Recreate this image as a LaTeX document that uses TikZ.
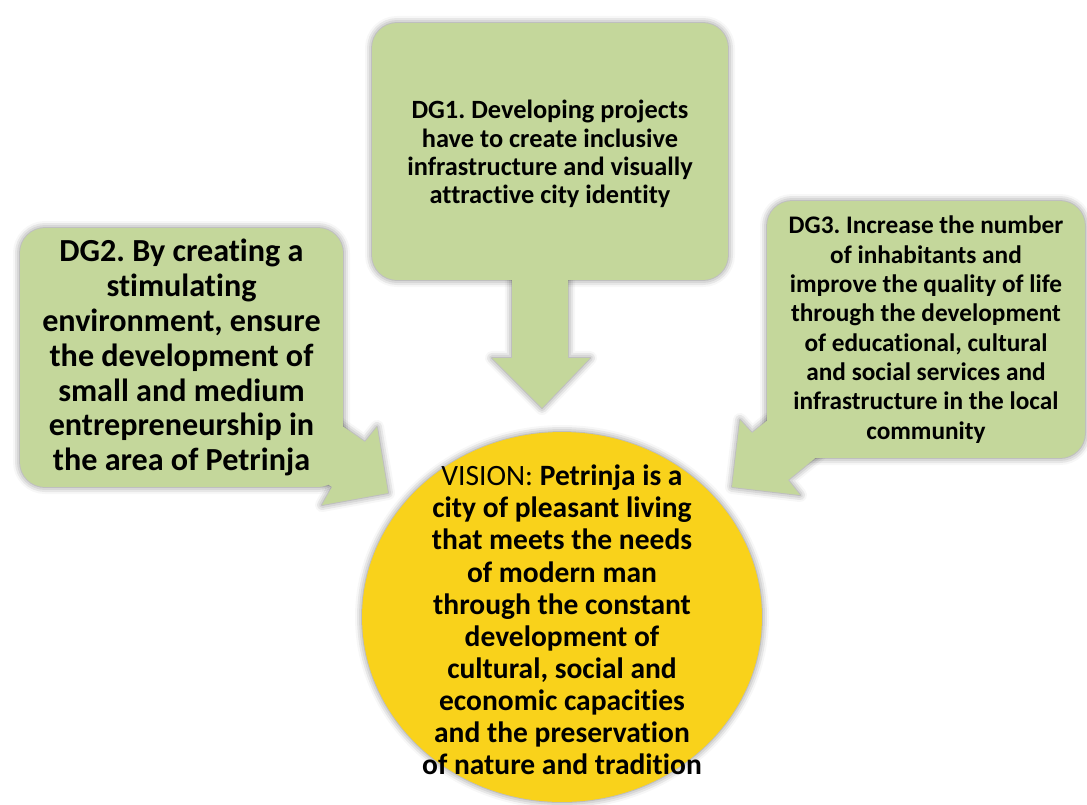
\documentclass[tikz,border=0pt]{standalone}
\usepackage{fontspec}
\setmainfont{Carlito}[Ligatures=NoCommon]
\frenchspacing
\usetikzlibrary{shapes.geometric,shadows.blur}
\definecolor{goalgreen}{RGB}{196,215,155}
\definecolor{visionyellow}{RGB}{249,210,27}
\begin{document}
\begin{tikzpicture}[x=0.02cm,y=-0.02cm,
		soft/.style={blur shadow={shadow xshift=0pt,shadow yshift=0pt,shadow blur radius=4pt,shadow opacity=50}},
		goal/.style={soft,fill=goalgreen,rounded corners=0.5cm,align=center,inner sep=0pt},
		goalarrow/.style={fill=goalgreen}]
		\useasboundingbox (0,0) rectangle (1087,804);
		
		\coordinate (tip1) at (542,408);
		\coordinate (tip2) at (388,493);
		\coordinate (tip3) at (732,487);
		
		\path[soft] (512,250) -- (512,358) -- (492,358) -- (tip1) -- (590,358) -- (568,358) -- (568,250) -- cycle;
		\path[soft] (338,423) -- (365,442) -- (377,427) -- (tip2) -- (322,505) -- (332,487) -- (322,480) -- cycle;
		\path[soft] (769,419) -- (752,433) -- (740,420) -- (tip3) -- (800,495) -- (788,480) -- (819,455) -- cycle;
		
		\node[goal,minimum width=7.12cm,minimum height=5.14cm,font=\fontsize{15}{16.1}\selectfont\bfseries] (dg1) at (550,151.5) {};
		\node[align=center,inner sep=0pt,font=\fontsize{15}{16.1}\selectfont\bfseries] (dg1text) at (550,154) {DG1. Developing projects\\have to create inclusive\\infrastructure and visually\\attractive city identity};
		\node[goal,minimum width=6.46cm,minimum height=5.18cm,font=\fontsize{18.3}{19.9}\selectfont\bfseries] (dg2) at (181.5,357.5) {DG2. By creating a\\stimulating\\environment, ensure\\the development of\\small and medium\\entrepreneurship in\\the area of Petrinja};
		\node[goal,minimum width=6.36cm,minimum height=5.14cm,font=\fontsize{14.4}{16.7}\selectfont\bfseries] (dg3) at (926,329.5) {DG3. Increase the number\\of inhabitants and\\improve the quality of life\\through the development\\of educational, cultural\\and social services and\\infrastructure in the local\\community};
		
		\fill[goalarrow] (512,250) -- (512,358) -- (492,358) -- (tip1) -- (590,358) -- (568,358) -- (568,250) -- cycle;
		\fill[goalarrow] (338,423) -- (365,442) -- (377,427) -- (tip2) -- (322,505) -- (332,487) -- (322,480) -- cycle;
		\fill[goalarrow] (769,419) -- (752,433) -- (740,420) -- (tip3) -- (800,495) -- (788,480) -- (819,455) -- cycle;
		
		\node[soft,ellipse,fill=visionyellow,minimum width=8cm,minimum height=7.4cm,inner sep=0pt] (vision) at (562,617) {};
		\node[align=center,inner sep=0pt,font=\fontsize{16.8}{18.3}\selectfont\bfseries] (visiontext) at (562,620) {{\mdseries VISION:} Petrinja is a\\city of pleasant living\\that meets the needs\\of modern man\\through the constant\\development of\\cultural, social and\\economic capacities\\and the preservation\\of nature and tradition};
	\end{tikzpicture}
\end{document}
